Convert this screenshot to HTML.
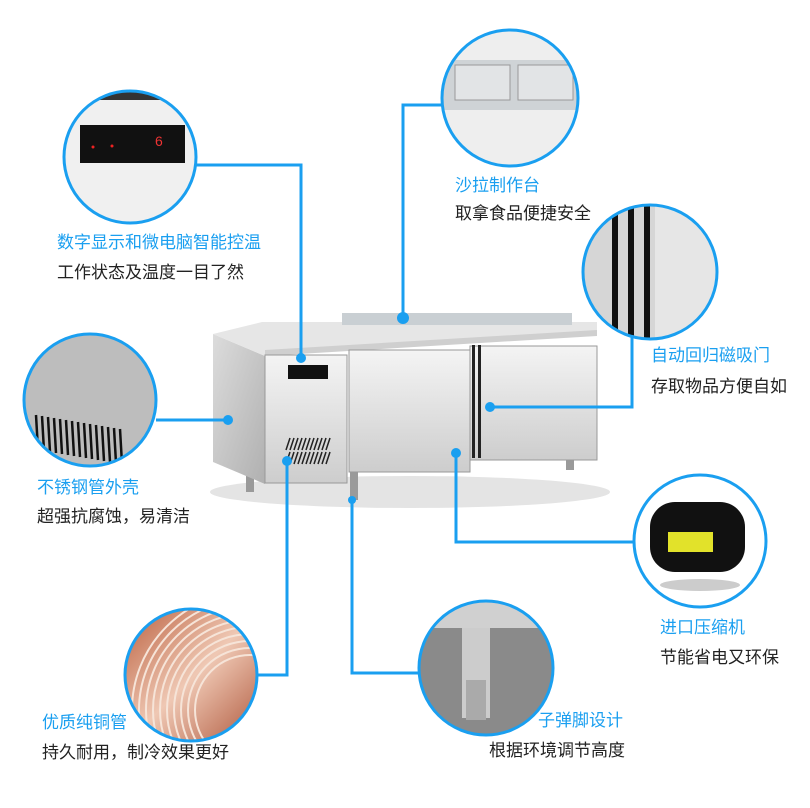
<!DOCTYPE html>
<html><head><meta charset="utf-8"><style>
html,body{margin:0;padding:0;background:#fff;}
.t{font-family:"Liberation Sans","Noto Sans CJK SC",sans-serif;font-size:17px;}
</style></head><body>
<svg width="810" height="803" xmlns="http://www.w3.org/2000/svg">
<defs>
<linearGradient id="steel" x1="0" y1="0" x2="0" y2="1"><stop offset="0" stop-color="#f4f4f4"/><stop offset="1" stop-color="#cdcdcd"/></linearGradient>
<linearGradient id="steel2" x1="0" y1="0" x2="1" y2="1"><stop offset="0" stop-color="#dcdcdc"/><stop offset="1" stop-color="#b0b0b0"/></linearGradient>
<linearGradient id="cop" x1="0" y1="0" x2="1" y2="1"><stop offset="0" stop-color="#b85a38"/><stop offset=".5" stop-color="#efc8b4"/><stop offset="1" stop-color="#a84c30"/></linearGradient>
<clipPath id="c1"><circle cx="130" cy="157" r="66"/></clipPath>
<clipPath id="c2"><circle cx="510" cy="98" r="68"/></clipPath>
<clipPath id="c3"><circle cx="650" cy="272" r="67"/></clipPath>
<clipPath id="c4"><circle cx="90" cy="400" r="66"/></clipPath>
<clipPath id="c5"><circle cx="700" cy="541" r="66"/></clipPath>
<clipPath id="c6"><circle cx="191" cy="675" r="66"/></clipPath>
<clipPath id="c7"><circle cx="486" cy="668" r="67"/></clipPath>
</defs>
<ellipse cx="410" cy="492" rx="200" ry="16" fill="#e4e4e4"/>
<rect x="246" y="470" width="8" height="22" fill="#9a9a9a"/>
<rect x="350" y="470" width="8" height="30" fill="#9a9a9a"/>
<rect x="566" y="445" width="8" height="25" fill="#9a9a9a"/>
<polygon points="213,334 265,356 265,484 213,462" fill="url(#steel2)"/>
<polygon points="213,334 262,322 597,322 597,334 265,356" fill="#e6e6e6"/>
<polygon points="265,350 597,330 597,336 265,356" fill="#cfcfcf"/>
<rect x="342" y="313" width="230" height="12" fill="#c9cfd3"/>
<rect x="265" y="355" width="82" height="128" fill="url(#steel)" stroke="#999" stroke-width="1"/>
<rect x="349" y="350" width="121" height="122" fill="url(#steel)" stroke="#999" stroke-width="1"/>
<rect x="470" y="346" width="127" height="114" fill="url(#steel)" stroke="#999" stroke-width="1"/>
<rect x="472" y="345" width="3" height="113" fill="#222"/>
<rect x="478" y="345" width="3" height="113" fill="#222"/>
<rect x="288" y="365" width="40" height="14" fill="#111"/>
<g stroke="#222" stroke-width="1.5">
<path d="M286,450l4,-12M290,450l4,-12M294,450l4,-12M298,450l4,-12M302,450l4,-12M306,450l4,-12M310,450l4,-12M314,450l4,-12M318,450l4,-12M322,450l4,-12M326,450l4,-12"/>
<path d="M286,464l4,-12M290,464l4,-12M294,464l4,-12M298,464l4,-12M302,464l4,-12M306,464l4,-12M310,464l4,-12M314,464l4,-12M318,464l4,-12M322,464l4,-12M326,464l4,-12"/>
</g>
<g clip-path="url(#c1)"><rect x="60" y="88" width="140" height="140" fill="#f0f0f0"/><rect x="60" y="88" width="140" height="12" fill="#333"/><rect x="80" y="125" width="105" height="38" fill="#111"/><text x="155" y="146" fill="#e33" font-size="14" font-family="Liberation Sans">6</text><circle cx="93" cy="147" r="1.5" fill="#e22"/><circle cx="112" cy="146" r="1.5" fill="#e22"/></g>
<g clip-path="url(#c2)"><rect x="440" y="28" width="140" height="140" fill="#eee"/><rect x="440" y="60" width="140" height="50" fill="#cfd3d6"/><rect x="455" y="65" width="55" height="35" fill="#e2e4e6" stroke="#999"/><rect x="518" y="65" width="55" height="35" fill="#e2e4e6" stroke="#999"/></g>
<g clip-path="url(#c3)"><rect x="580" y="204" width="140" height="140" fill="#d6d6d6"/><rect x="612" y="204" width="6" height="140" fill="#111"/><rect x="628" y="204" width="6" height="140" fill="#111"/><rect x="644" y="204" width="6" height="140" fill="#111"/><rect x="655" y="204" width="70" height="140" fill="#e6e6e6"/></g>
<g clip-path="url(#c4)"><rect x="20" y="330" width="140" height="140" fill="#bdbdbd"/><g stroke="#111" stroke-width="2.5"><path d="M36,415l2,35M42,416l2,35M48,417l2,35M54,418l2,35M60,419l2,35M66,420l2,35M72,421l2,35M78,422l2,35M84,423l2,35M90,424l2,35M96,425l2,35M102,426l2,35M108,427l2,35M114,428l2,35M120,429l2,35"/></g></g>
<g clip-path="url(#c5)"><rect x="630" y="470" width="140" height="140" fill="#fff"/><rect x="650" y="502" width="95" height="70" rx="25" fill="#111"/><rect x="668" y="532" width="45" height="20" fill="#e2e22a"/><ellipse cx="700" cy="585" rx="40" ry="6" fill="#ccc"/></g>
<g clip-path="url(#c6)"><rect x="120" y="605" width="145" height="145" fill="url(#cop)"/><g fill="none" stroke="#f6e4d8" stroke-width="2"><circle cx="250" cy="710" r="55"/><circle cx="250" cy="710" r="62"/><circle cx="250" cy="710" r="69"/><circle cx="250" cy="710" r="76"/><circle cx="250" cy="710" r="83"/><circle cx="250" cy="710" r="90"/><circle cx="250" cy="710" r="97"/><circle cx="250" cy="710" r="104"/><circle cx="250" cy="710" r="111"/><circle cx="250" cy="710" r="118"/></g></g>
<g clip-path="url(#c7)"><rect x="415" y="598" width="145" height="145" fill="#8a8a8a"/><rect x="415" y="598" width="145" height="30" fill="#d0d0d0"/><rect x="462" y="628" width="28" height="90" fill="#ccc"/><rect x="466" y="680" width="20" height="40" fill="#aaa"/></g>
<g fill="none" stroke="#1a9ff0" stroke-width="3">
<circle cx="130" cy="157" r="66"/><circle cx="510" cy="98" r="68"/><circle cx="650" cy="272" r="67"/><circle cx="90" cy="400" r="66"/><circle cx="700" cy="541" r="66"/><circle cx="191" cy="675" r="66"/><circle cx="486" cy="668" r="67"/>
<polyline points="196,165 301,165 301,358"/>
<polyline points="442,105 403,105 403,318"/>
<polyline points="632,335 632,407 490,407"/>
<polyline points="156,420 228,420"/>
<polyline points="634,542 456,542 456,453"/>
<polyline points="257,675 287,675 287,461"/>
<polyline points="419,673 352,673 352,500"/>
</g>
<g fill="#1a9ff0">
<circle cx="301" cy="358" r="5"/><circle cx="403" cy="318" r="6"/><circle cx="490" cy="407" r="5"/><circle cx="228" cy="420" r="5"/><circle cx="456" cy="453" r="5"/><circle cx="287" cy="461" r="5"/><circle cx="352" cy="500" r="4"/>
</g>
<g class="t">
<text x="57" y="248" fill="#1a9ff0">数字显示和微电脑智能控温</text>
<text x="57" y="278" fill="#222">工作状态及温度一目了然</text>
<text x="455" y="191" fill="#1a9ff0">沙拉制作台</text>
<text x="455" y="219" fill="#222">取拿食品便捷安全</text>
<text x="651" y="361" fill="#1a9ff0">自动回归磁吸门</text>
<text x="651" y="392" fill="#222">存取物品方便自如</text>
<text x="37" y="493" fill="#1a9ff0">不锈钢管外壳</text>
<text x="37" y="522" fill="#222">超强抗腐蚀，易清洁</text>
<text x="660" y="633" fill="#1a9ff0">进口压缩机</text>
<text x="660" y="663" fill="#222">节能省电又环保</text>
<text x="42" y="728" fill="#1a9ff0">优质纯铜管</text>
<text x="42" y="758" fill="#222">持久耐用，制冷效果更好</text>
<text x="538" y="726" fill="#1a9ff0">子弹脚设计</text>
<text x="489" y="756" fill="#222">根据环境调节高度</text>
</g>
</svg>
</body></html>
